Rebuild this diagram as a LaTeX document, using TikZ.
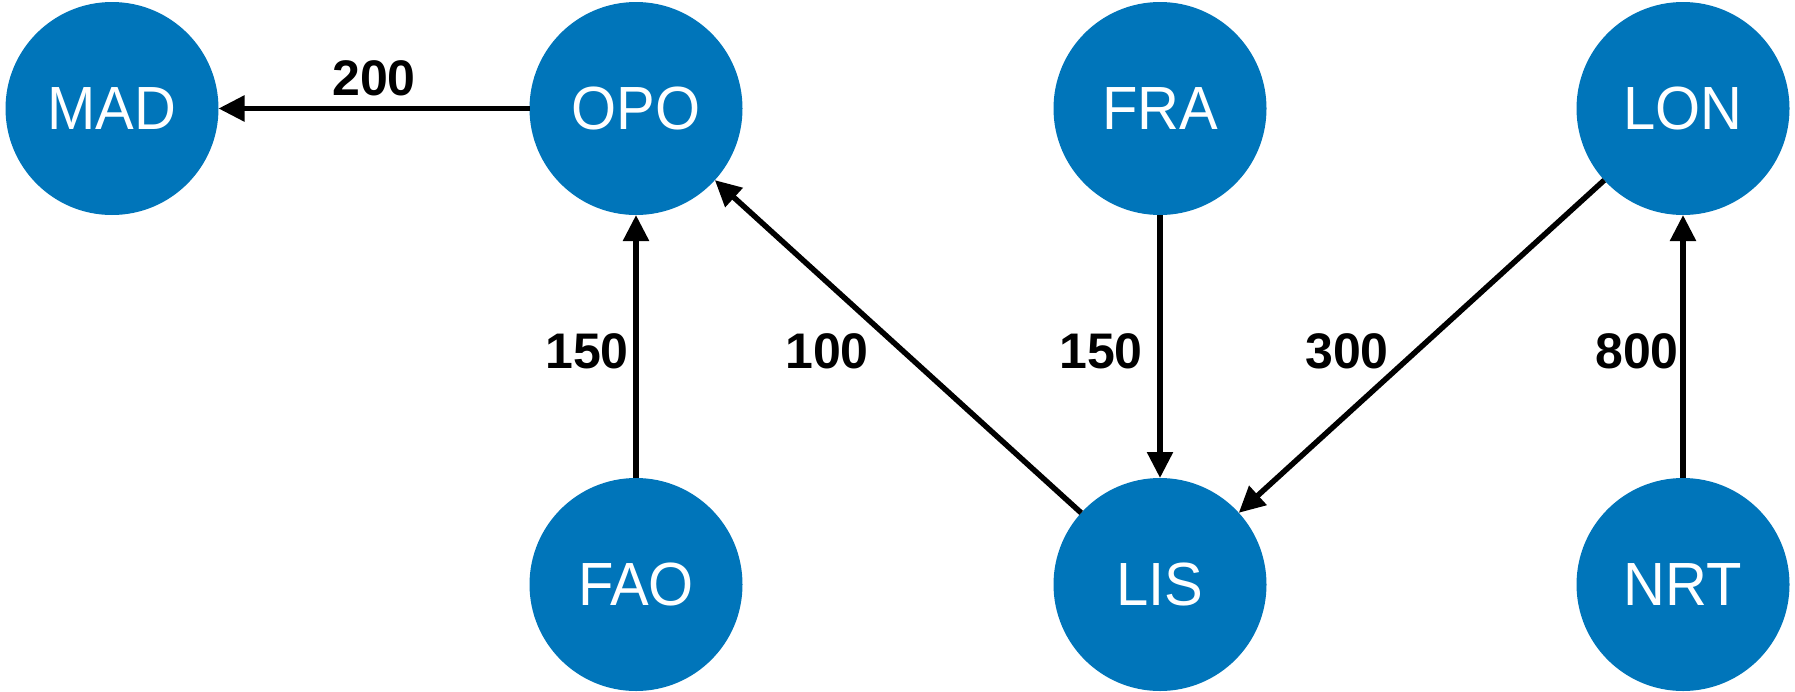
\documentclass[tikz,border=0pt]{standalone}
\usepackage{fontspec}
\setmainfont{Liberation Sans}
\newfontfamily\nodefont[FakeStretch=0.95]{Liberation Sans}
\usetikzlibrary{arrows.meta}
\definecolor{nodeblue}{HTML}{0075BA}
\begin{document}
\begin{tikzpicture}[x=1pt,y=-1pt,
  airport/.style={circle, fill=nodeblue, minimum size=213pt, inner sep=0pt, outer sep=0pt,
    text=white, font=\nodefont\fontsize{61}{61}\selectfont},
  wlabel/.style={font=\fontsize{50}{50}\selectfont\bfseries, text=black, inner sep=0pt},
  route/.style={line width=5.5pt, -{Triangle[length=26pt,width=25pt]}}]
\useasboundingbox (0,0) rectangle (1795,691);
\node[airport] (MAD) at (112,108.5) {MAD};
\node[airport] (OPO) at (636,108.5) {OPO};
\node[airport] (FRA) at (1160,108.5) {FRA};
\node[airport] (LON) at (1683,108.5) {LON};
\node[airport] (FAO) at (636,584.5) {FAO};
\node[airport] (LIS) at (1160,584.5) {LIS};
\node[airport] (NRT) at (1683,584.5) {NRT};
\draw[route] (OPO) -- (MAD);
\draw[route] (FAO) -- (OPO);
\draw[route] (LIS) -- (OPO);
\draw[route] (FRA) -- (LIS);
\draw[route] (LON) -- (LIS);
\draw[route] (NRT) -- (LON);
\node[wlabel] (l200) at (374,78) {200};
\node[wlabel] (l150a) at (587,351) {150};
\node[wlabel] (l100) at (827,351) {100};
\node[wlabel] (l150b) at (1101,351) {150};
\node[wlabel] (l300) at (1347,351) {300};
\node[wlabel] (l800) at (1637,351) {800};
\end{tikzpicture}
\end{document}
